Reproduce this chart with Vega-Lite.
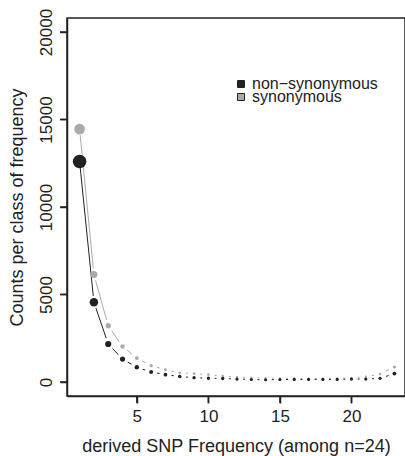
{
  "$schema": "https://vega.github.io/schema/vega-lite/v6.json",
  "width": 338,
  "height": 378,
  "autosize": {"type": "none"},
  "padding": {"left": 67, "top": 18, "right": 0, "bottom": 60},
  "config": {
    "view": {"stroke": "#222222", "strokeWidth": 1.5},
    "font": "Liberation Sans",
    "legend": {"rowPadding": -5, "clipHeight": 10},
    "axis": {
      "labelFont": "Liberation Sans",
      "labelFontSize": 17,
      "labelColor": "#222222",
      "titleFont": "Liberation Sans",
      "titleFontSize": 18,
      "titleFontWeight": "normal",
      "titleColor": "#222222",
      "tickColor": "#222222",
      "domainColor": "#222222",
      "tickSize": 7,
      "tickWidth": 1.5,
      "domainWidth": 1.5,
      "grid": false,
      "domain": true,
      "ticks": true
    }
  },
  "datasets": {
    "xticks": [{"v": 5}, {"v": 10}, {"v": 15}, {"v": 20}],
    "yticks": [{"v": 0}, {"v": 5000}, {"v": 10000}, {"v": 15000}, {"v": 20000}],
    "sfs": [
      {"freq": 1, "count": 12600, "type": "non−synonymous"},
      {"freq": 2, "count": 4560, "type": "non−synonymous"},
      {"freq": 3, "count": 2170, "type": "non−synonymous"},
      {"freq": 4, "count": 1310, "type": "non−synonymous"},
      {"freq": 5, "count": 840, "type": "non−synonymous"},
      {"freq": 6, "count": 570, "type": "non−synonymous"},
      {"freq": 7, "count": 420, "type": "non−synonymous"},
      {"freq": 8, "count": 310, "type": "non−synonymous"},
      {"freq": 9, "count": 250, "type": "non−synonymous"},
      {"freq": 10, "count": 215, "type": "non−synonymous"},
      {"freq": 11, "count": 200, "type": "non−synonymous"},
      {"freq": 12, "count": 170, "type": "non−synonymous"},
      {"freq": 13, "count": 145, "type": "non−synonymous"},
      {"freq": 14, "count": 125, "type": "non−synonymous"},
      {"freq": 15, "count": 140, "type": "non−synonymous"},
      {"freq": 16, "count": 150, "type": "non−synonymous"},
      {"freq": 17, "count": 150, "type": "non−synonymous"},
      {"freq": 18, "count": 150, "type": "non−synonymous"},
      {"freq": 19, "count": 150, "type": "non−synonymous"},
      {"freq": 20, "count": 170, "type": "non−synonymous"},
      {"freq": 21, "count": 170, "type": "non−synonymous"},
      {"freq": 22, "count": 210, "type": "non−synonymous"},
      {"freq": 23, "count": 480, "type": "non−synonymous"},
      {"freq": 1, "count": 14450, "type": "synonymous"},
      {"freq": 2, "count": 6140, "type": "synonymous"},
      {"freq": 3, "count": 3215, "type": "synonymous"},
      {"freq": 4, "count": 2035, "type": "synonymous"},
      {"freq": 5, "count": 1370, "type": "synonymous"},
      {"freq": 6, "count": 935, "type": "synonymous"},
      {"freq": 7, "count": 705, "type": "synonymous"},
      {"freq": 8, "count": 525, "type": "synonymous"},
      {"freq": 9, "count": 480, "type": "synonymous"},
      {"freq": 10, "count": 420, "type": "synonymous"},
      {"freq": 11, "count": 340, "type": "synonymous"},
      {"freq": 12, "count": 290, "type": "synonymous"},
      {"freq": 13, "count": 250, "type": "synonymous"},
      {"freq": 14, "count": 225, "type": "synonymous"},
      {"freq": 15, "count": 210, "type": "synonymous"},
      {"freq": 16, "count": 200, "type": "synonymous"},
      {"freq": 17, "count": 200, "type": "synonymous"},
      {"freq": 18, "count": 200, "type": "synonymous"},
      {"freq": 19, "count": 210, "type": "synonymous"},
      {"freq": 20, "count": 240, "type": "synonymous"},
      {"freq": 21, "count": 300, "type": "synonymous"},
      {"freq": 22, "count": 455, "type": "synonymous"},
      {"freq": 23, "count": 855, "type": "synonymous"}
    ]
  },
  "data": {"name": "sfs"},
  "layer": [
    {
      "transform": [{"filter": "datum.type == 'synonymous'"}],
      "mark": {"type": "line", "color": "#aaaaaa", "strokeWidth": 1},
      "encoding": {
        "x": {"field": "freq", "type": "quantitative", "scale": {"domain": [0.12, 23.74], "nice": false, "zero": false},
              "axis": {"values": [5, 10, 15, 20], "labelPadding": 5, "title": "derived SNP Frequency (among n=24)", "titlePadding": 13}},
        "y": {"field": "count", "type": "quantitative", "scale": {"domain": [-800, 20800], "nice": false, "zero": false},
              "axis": {"values": [0, 5000, 10000, 15000, 20000], "format": "d", "labelAngle": 270, "labelAlign": "center", "labelBaseline": "alphabetic", "labelPadding": 9, "title": "Counts per class of frequency", "titlePadding": 11}}
      }
    },
    {
      "transform": [{"filter": "datum.type == 'synonymous'"}],
      "mark": {"type": "circle", "color": "white", "opacity": 1, "size": 154},
      "encoding": {
        "x": {"field": "freq", "type": "quantitative"},
        "y": {"field": "count", "type": "quantitative"}
      }
    },
    {
      "transform": [{"filter": "datum.type != 'synonymous'"}],
      "mark": {"type": "line", "color": "#222222", "strokeWidth": 1},
      "encoding": {
        "x": {"field": "freq", "type": "quantitative"},
        "y": {"field": "count", "type": "quantitative"}
      }
    },
    {
      "transform": [{"filter": "datum.type != 'synonymous'"}],
      "mark": {"type": "circle", "color": "white", "opacity": 1, "size": 154},
      "encoding": {
        "x": {"field": "freq", "type": "quantitative"},
        "y": {"field": "count", "type": "quantitative"}
      }
    },
    {
      "transform": [{"filter": "datum.type == 'synonymous'"}],
      "mark": {"type": "circle", "opacity": 1},
      "encoding": {
        "x": {"field": "freq", "type": "quantitative"},
        "y": {"field": "count", "type": "quantitative"},
        "size": {"field": "count", "type": "quantitative", "scale": {"domain": [0, 14450], "range": [3.5, 113]}, "legend": null},
        "color": {"field": "type", "type": "nominal",
                  "scale": {"domain": ["non−synonymous", "synonymous"], "range": ["#222222", "#aaaaaa"]},
                  "legend": {"orient": "none", "legendX": 166, "legendY": 61, "title": null, "symbolType": "square", "symbolSize": 49, "labelFontSize": 16, "labelFont": "Liberation Sans", "labelColor": "#222222", "symbolStrokeColor": "#222222", "symbolStrokeWidth": 1, "symbolOpacity": 1, "labelOffset": 3, "padding": 0}}
      }
    },
    {
      "transform": [{"filter": "datum.type != 'synonymous'"}],
      "mark": {"type": "circle", "opacity": 1},
      "encoding": {
        "x": {"field": "freq", "type": "quantitative"},
        "y": {"field": "count", "type": "quantitative"},
        "size": {"field": "count", "type": "quantitative", "scale": {"domain": [0, 12600], "range": [8, 184]}, "legend": null},
        "color": {"field": "type", "type": "nominal"}
      }
    },
    {
      "data": {"name": "xticks"},
      "mark": {"type": "rule", "color": "#222222", "strokeWidth": 1.5},
      "encoding": {
        "x": {"field": "v", "type": "quantitative"},
        "y": {"datum": -800},
        "y2": {"datum": -1200}
      }
    },
    {
      "data": {"name": "yticks"},
      "mark": {"type": "rule", "color": "#222222", "strokeWidth": 1.5},
      "encoding": {
        "y": {"field": "v", "type": "quantitative"},
        "x": {"datum": 0.12},
        "x2": {"datum": -0.37}
      }
    }
  ],
  "resolve": {"scale": {"size": "independent"}}
}
